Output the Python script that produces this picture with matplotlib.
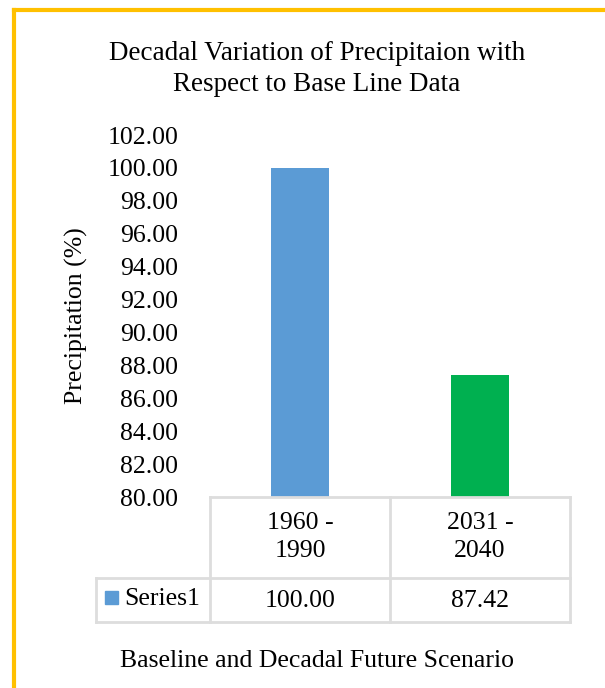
import matplotlib.pyplot as plt
from matplotlib.transforms import blended_transform_factory
from matplotlib.lines import Line2D
from matplotlib.patches import Rectangle

# Data
categories = ['1960 -\n1990', '2031 -\n2040']
values = [100.00, 87.42]
bar_colors = ['#5B9BD5', '#00B050']
series_name = 'Series1'
yticks = [80, 82, 84, 86, 88, 90, 92, 94, 96, 98, 100, 102]

W, H = 605, 688
plt.rcParams['font.family'] = ['Liberation Serif', 'DejaVu Serif']
fs = 18.5
fs_title = 19.5

fig = plt.figure(figsize=(W / 100, H / 100), dpi=100)

def fx(px):
    return px / W

def fy(py):
    return 1 - py / H

# plot area
ax = fig.add_axes([fx(210), fy(497), fx(570) - fx(210), fy(135) - fy(497)])
x = list(range(len(categories)))
ax.bar(x, [v - 80 for v in values], bottom=80, width=0.32, color=bar_colors)
ax.set_xlim(-0.5, len(categories) - 0.5)
ax.set_ylim(80, 102)
ax.set_yticks(yticks)
ax.set_yticklabels([f'{t:.2f}' for t in yticks], fontsize=fs)
ax.tick_params(axis='y', length=0, pad=23)
ax.set_xticks([])
for s in ax.spines.values():
    s.set_visible(False)
ax.set_ylabel('Precipitation (%)', fontsize=fs, labelpad=14)

# data table below the plot
grid = '#DDDDDD'
tr = blended_transform_factory(ax.transData, fig.transFigure)
def hline(x0, x1, py):
    fig.add_artist(Line2D([fx(x0), fx(x1)], [fy(py), fy(py)], color=grid, lw=2))
def vline(px, y0, y1):
    fig.add_artist(Line2D([fx(px), fx(px)], [fy(y0), fy(y1)], color=grid, lw=2))

hline(210, 570, 497)
hline(96, 570, 578)
hline(96, 570, 622)
vline(96, 578, 622)
vline(210, 497, 622)
vline(390, 497, 622)
vline(570, 497, 622)

for i, (c, v) in enumerate(zip(categories, values)):
    fig.text(i, fy(537), c, transform=tr, ha='center', va='center',
             fontsize=fs, linespacing=1.33)
    fig.text(i, fy(601), f'{v:.2f}', transform=tr, ha='center', va='center',
             fontsize=fs)

fig.add_artist(Rectangle((fx(105), fy(604)), fx(13), 13 / H,
                         color=bar_colors[0], transform=fig.transFigure))
fig.text(fx(124), fy(599), series_name, ha='left', va='center', fontsize=fs)

# titles
fig.text(fx(317), fy(69), 'Decadal Variation of Precipitaion with\nRespect to Base Line Data',
         ha='center', va='center', fontsize=fs_title, linespacing=1.3)
fig.text(fx(317), fy(661), 'Baseline and Decadal Future Scenario',
         ha='center', va='center', fontsize=18.5)

# outer frame (top and left edges visible)
fig.add_artist(Line2D([fx(13.5), 1], [fy(10), fy(10)], color='#FFC000', lw=3))
fig.add_artist(Line2D([fx(13.5), fx(13.5)], [fy(10), 0], color='#FFC000', lw=3))

fig.savefig('out.png', dpi=100)
